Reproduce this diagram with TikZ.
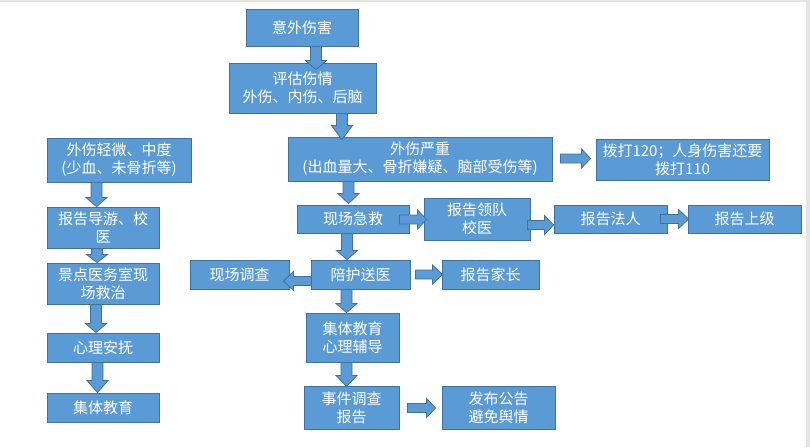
\documentclass[tikz,border=0pt]{standalone}
\usepackage{fontspec}
\setmainfont{Noto Sans CJK SC}
\usetikzlibrary{calc}
\definecolor{boxfill}{HTML}{5B9BD5}
\definecolor{boxline}{HTML}{41719C}
\definecolor{framegray}{HTML}{E4E4E4}
\tikzset{
  box/.style={draw=boxline, fill=boxfill, line width=0.9pt, text=white, align=center,
    inner sep=0pt, font=\fontsize{15pt}{18pt}\selectfont},
  arr/.style={draw=boxline, fill=boxfill, line width=0.8pt, line join=miter},
}
% down arrow: #2 start (shaft x from it), #3 tip (y from it), #1 head length
\newcommand\darr[3][10]{\draw[arr] let \p1=(#2), \p2=(#3) in
  (\x1-5.5pt,\y1) -- (\x1-5.5pt,\y2+#1pt) -- (\x1-10.5pt,\y2+#1pt) -- (\x1,\y2)
  -- (\x1+10.5pt,\y2+#1pt) -- (\x1+5.5pt,\y2+#1pt) -- (\x1+5.5pt,\y1) -- cycle;}
% right arrow
\newcommand\rarr[3][10]{\draw[arr] let \p1=(#2), \p2=(#3) in
  (\x1,\y1-4.5pt) -- (\x2-#1pt,\y1-4.5pt) -- (\x2-#1pt,\y1-9.5pt) -- (\x2,\y1)
  -- (\x2-#1pt,\y1+9.5pt) -- (\x2-#1pt,\y1+4.5pt) -- (\x1,\y1+4.5pt) -- cycle;}
% left arrow
\newcommand\larr[3][10]{\draw[arr] let \p1=(#2), \p2=(#3) in
  (\x1,\y1-4.5pt) -- (\x2+#1pt,\y1-4.5pt) -- (\x2+#1pt,\y1-9.5pt) -- (\x2,\y1)
  -- (\x2+#1pt,\y1+9.5pt) -- (\x2+#1pt,\y1+4.5pt) -- (\x1,\y1+4.5pt) -- cycle;}
\begin{document}
\begin{tikzpicture}
\useasboundingbox (0pt,0pt) rectangle (810pt,-447pt);
\fill[white] (0pt,0pt) rectangle (810pt,-447pt);
\fill[framegray] (0pt,0pt) rectangle (810pt,-1.5pt);
\fill[framegray] (806pt,0pt) rectangle (810pt,-447pt);

% main column
\node[box, minimum width=112pt, minimum height=37pt] (yw) at (302pt,-27.5pt) {意外伤害};
\node[box, minimum width=147pt, minimum height=50pt] (pg) at (302.5pt,-88pt) {评估伤情\\外伤、内伤、后脑};
\node[box, minimum width=264pt, minimum height=44pt] (yz) at (420pt,-159pt) {外伤严重\\(出血量大、骨折嫌疑、脑部受伤等)};
\node[box, minimum width=173pt, minimum height=41pt] (bd) at (682.5pt,-159.5pt) {拨打120；人身伤害还要\\拨打110};
\node[box, minimum width=112pt, minimum height=28pt] (xj) at (353pt,-219pt) {现场急救};
\node[box, minimum width=106pt, minimum height=42pt] (ld) at (477pt,-219pt) {报告领队\\校医};
\node[box, minimum width=113pt, minimum height=28pt] (fr) at (610.5pt,-219pt) {报告法人};
\node[box, minimum width=113pt, minimum height=28pt] (sj) at (744.5pt,-219pt) {报告上级};
\node[box, minimum width=99pt, minimum height=29pt] (pz) at (360.5pt,-274.5pt) {陪护送医};
\node[box, minimum width=99pt, minimum height=29pt] (dc) at (239.5pt,-274.5pt) {现场调查};
\node[box, minimum width=97pt, minimum height=29pt] (jz) at (490.5pt,-274.5pt) {报告家长};
\node[box, minimum width=93pt, minimum height=49pt] (jy) at (352.5pt,-337.5pt) {集体教育\\心理辅导};
\node[box, minimum width=95pt, minimum height=43pt] (sd) at (351.5pt,-407.5pt) {事件调查\\报告};
\node[box, minimum width=113pt, minimum height=43pt] (fb) at (498.5pt,-407.5pt) {发布公告\\避免舆情};

% left column
\node[box, minimum width=144pt, minimum height=44pt] (qw) at (119pt,-160pt) {外伤轻微、中度\\(少血、未骨折等)};
\node[box, minimum width=112pt, minimum height=41pt] (dy) at (103pt,-227.5pt) {报告导游、校\\医};
\node[box, minimum width=112pt, minimum height=41pt] (ys) at (103pt,-283.5pt) {景点医务室现\\场救治};
\node[box, minimum width=112pt, minimum height=29pt] (xl) at (103pt,-347.5pt) {心理安抚};
\node[box, minimum width=112pt, minimum height=29pt] (jt) at (103pt,-407.5pt) {集体教育};

% arrows, main column
\darr[9]{$(yw.south)+(14pt,0)$}{$(pg.north)+(0,-7pt)$}
\darr[14]{$(pg.south)+(39.5pt,0)$}{$(yz.north)+(0,-3pt)$}
\darr[10]{$(yz.south)+(-71.5pt,0)$}{$(xj.north)+(0,1pt)$}
\rarr[9]{$(yz.east)+(8pt,0.5pt)$}{$(bd.west)+(-5pt,0)$}
\rarr[9]{$(xj.east)+(-10pt,-0.5pt)$}{$(ld.west)+(3pt,0)$}
\rarr[9]{$(ld.east)+(-3pt,-6pt)$}{fr.west}
\rarr[10]{$(fr.east)+(-7pt,0)$}{$(sj.west)+(1pt,0)$}
\darr[9]{$(xj.south)+(-6pt,0)$}{pz.north}
\larr[10]{$(pz.west)+(1pt,-6.5pt)$}{$(dc.east)+(-6pt,0)$}
\rarr[10]{$(pz.east)+(5pt,0)$}{$(jz.west)+(1pt,0)$}
\darr[9]{$(pz.south)+(-14pt,0)$}{jy.north}
\darr[11]{$(jy.south)+(-6pt,0)$}{$(sd.north)+(0,-1pt)$}
\rarr[9]{$(sd.east)+(8pt,-0.5pt)$}{$(fb.west)+(-6pt,0)$}

% arrows, left column
\darr[9]{$(qw.south)+(-22.5pt,0)$}{dy.north}
\darr[8]{$(dy.south)+(-6pt,0)$}{ys.north}
\darr[9]{$(ys.south)+(-7pt,0)$}{xl.north}
\darr[12]{$(xl.south)+(-5.5pt,0)$}{jt.north}
\end{tikzpicture}
\end{document}
